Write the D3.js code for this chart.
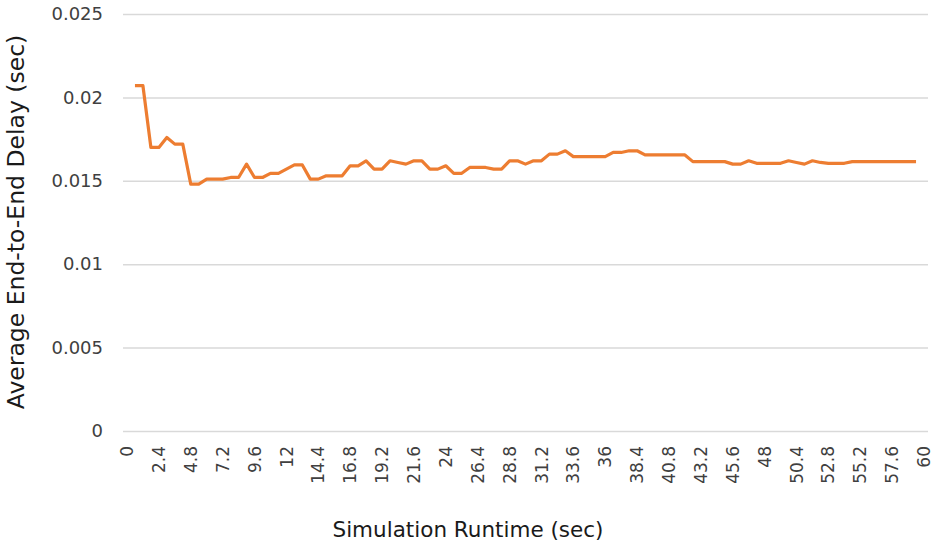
<!DOCTYPE html>
<html>
<head>
<meta charset="utf-8">
<script src="https://cdn.jsdelivr.net/npm/d3@7"></script>
<style>
  body { margin: 0; background: #fff; }
  svg { display: block; }
  text { font-family: "DejaVu Sans", sans-serif; }
</style>
</head>
<body>
<svg id="chart"></svg>
<script>
// categories on the x axis (sec)
var categories = [
  "0","0.6","1.2","1.8","2.4","3","3.6","4.2","4.8","5.4","6","6.6","7.2","7.8","8.4","9","9.6","10.2","10.8","11.4",
  "12","12.6","13.2","13.8","14.4","15","15.6","16.2","16.8","17.4","18","18.6","19.2","19.8","20.4","21","21.6","22.2","22.8","23.4",
  "24","24.6","25.2","25.8","26.4","27","27.6","28.2","28.8","29.4","30","30.6","31.2","31.8","32.4","33","33.6","34.2","34.8","35.4",
  "36","36.6","37.2","37.8","38.4","39","39.6","40.2","40.8","41.4","42","42.6","43.2","43.8","44.4","45","45.6","46.2","46.8","47.4",
  "48","48.6","49.2","49.8","50.4","51","51.6","52.2","52.8","53.4","54","54.6","55.2","55.8","56.4","57","57.6","58.2","58.8","59.4","60"
];

// average end-to-end delay (sec), one per category, null where empty
var delay = [
  null,
  0.0207, 0.0207, 0.0170, 0.0170, 0.0176, 0.0172, 0.0172, 0.0148, 0.0148, 0.0151,
  0.0151, 0.0151, 0.0152, 0.0152, 0.0160, 0.0152, 0.0152, 0.01545, 0.01545, 0.0157,
  0.01595, 0.01595, 0.0151, 0.0151, 0.0153, 0.0153, 0.0153, 0.0159, 0.0159, 0.0162,
  0.0157, 0.0157, 0.0162, 0.0161, 0.0160, 0.0162, 0.0162, 0.0157, 0.0157, 0.0159,
  0.01545, 0.01545, 0.0158, 0.0158, 0.0158, 0.0157, 0.0157, 0.0162, 0.0162, 0.0160,
  0.0162, 0.0162, 0.0166, 0.0166, 0.0168, 0.01645, 0.01645, 0.01645, 0.01645, 0.01645,
  0.0167, 0.0167, 0.0168, 0.0168, 0.01655, 0.01655, 0.01655, 0.01655, 0.01655, 0.01655,
  0.01615, 0.01615, 0.01615, 0.01615, 0.01615, 0.0160, 0.0160, 0.0162, 0.01605, 0.01605,
  0.01605, 0.01605, 0.0162, 0.0161, 0.0160, 0.0162, 0.0161, 0.01605, 0.01605, 0.01605,
  0.01615, 0.01615, 0.01615, 0.01615, 0.01615, 0.01615, 0.01615, 0.01615, 0.01615,
  null
];

var xTickLabels = ["0","2.4","4.8","7.2","9.6","12","14.4","16.8","19.2","21.6","24","26.4","28.8",
  "31.2","33.6","36","38.4","40.8","43.2","45.6","48","50.4","52.8","55.2","57.6","60"];
var yTicks = [0, 0.005, 0.01, 0.015, 0.02, 0.025];

var width = 944, height = 548;
var margin = { top: 14, right: 16, bottom: 117, left: 123 };
var plotW = width - margin.left - margin.right,
    plotH = height - margin.top - margin.bottom;

var svg = d3.select("#chart")
    .attr("width", width)
    .attr("height", height);

svg.append("rect").attr("width", width).attr("height", height).attr("fill", "#fff");

var g = svg.append("g")
    .attr("transform", "translate(" + margin.left + "," + margin.top + ")");

var x = d3.scaleBand().domain(categories).range([0, plotW]).padding(0);
var y = d3.scaleLinear().domain([0, 0.025]).range([plotH, 0]);

// y axis with gridlines
var yAxis = g.append("g")
    .call(d3.axisLeft(y).tickValues(yTicks).tickSize(-plotW).tickPadding(20)
        .tickFormat(function (d) { return String(+d.toFixed(3)); }));
yAxis.select(".domain").remove();
yAxis.selectAll("line").attr("stroke", "#d9d9d9").attr("stroke-width", 1.5);
yAxis.selectAll("text")
    .attr("fill", "#404040")
    .style("font-size", "18px");

// x axis, rotated labels
var xAxis = g.append("g")
    .attr("transform", "translate(0," + plotH + ")")
    .call(d3.axisBottom(x).tickValues(xTickLabels).tickSize(0));
xAxis.select(".domain").remove();
xAxis.selectAll("text")
    .attr("transform", "rotate(-90)")
    .attr("text-anchor", "end")
    .attr("x", -15)
    .attr("y", 0)
    .attr("dy", "0.36em")
    .attr("fill", "#404040")
    .style("font-size", "17px");

// the line
var line = d3.line()
    .defined(function (d) { return d != null; })
    .x(function (d, i) { return x(categories[i]) + x.bandwidth() / 2; })
    .y(function (d) { return y(d); });

g.append("path")
    .datum(delay)
    .attr("fill", "none")
    .attr("stroke", "#ED7D31")
    .attr("stroke-width", 3.2)
    .attr("stroke-linejoin", "round")
    .attr("d", line);

// axis titles
svg.append("text")
    .attr("x", 468)
    .attr("y", 537)
    .attr("text-anchor", "middle")
    .attr("fill", "#1a1a1a")
    .style("font-size", "21.5px")
    .text("Simulation Runtime (sec)");

svg.append("text")
    .attr("transform", "translate(24,222) rotate(-90)")
    .attr("text-anchor", "middle")
    .attr("fill", "#1a1a1a")
    .style("font-size", "23.5px")
    .text("Average End-to-End Delay (sec)");
</script>
</body>
</html>
